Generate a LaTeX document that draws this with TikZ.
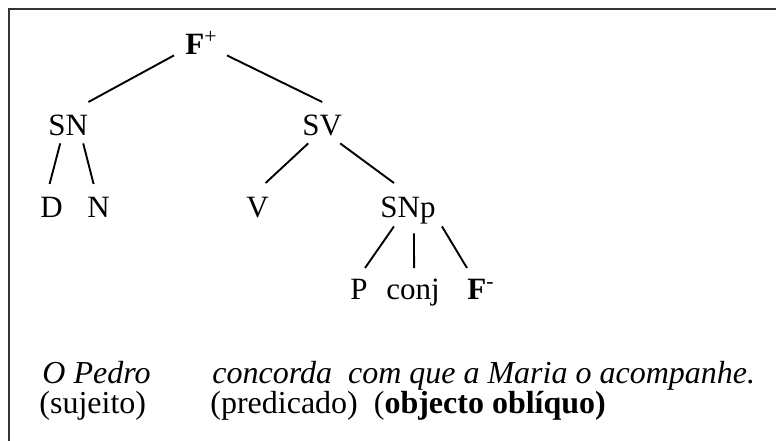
\documentclass[tikz,border=0pt]{standalone}
\usepackage{fontspec}
\setmainfont{Liberation Serif}
\usepackage{tikz}

\begin{document}
\begin{tikzpicture}[x=0.5pt,y=-0.5pt,
  lbl/.style={anchor=base west,inner sep=0pt,text height=10.3pt,text depth=0pt,
    font=\fontsize{15.5}{18}\selectfont},
  txt/.style={anchor=base west,inner sep=0pt,font=\fontsize{16}{18}\selectfont},
  branch/.style={line width=0.95pt}]
\clip (0,0) rectangle (776,440);
\draw[line width=0.8pt,black!80] (9,9) rectangle (800,470);
% tree
\node[lbl] (F) at (185,54) {\textbf{F}\textsuperscript{+}};
\node[lbl] (SN) at (48,135) {SN};
\node[lbl] (SV) at (302,135) {SV};
\node[lbl] (D) at (40,217) {D};
\node[lbl] (N) at (87,217) {N};
\node[lbl] (V) at (246,217) {V};
\node[lbl] (SNp) at (380,217) {SNp};
\node[lbl] (P) at (350,299) {P};
\node[lbl] (conj) at (386,299) {conj};
\node[lbl] (Fm) at (467,299) {\textbf{F}\textsuperscript{-}};
\draw[branch] ([shift={(-11,1)}]F.south west) -- ([shift={(0,-12)}]SN.north east);
\draw[branch] ([shift={(9,1)}]F.south east) -- ([shift={(0,-12)}]SV.north);
\draw[branch] ([shift={(-8,8)}]SN.south) -- ([shift={(-2,-12)}]D.north);
\draw[branch] ([shift={(15,8)}]SN.south) -- ([shift={(-5,-12)}]N.north);
\draw[branch] ([shift={(-14,8)}]SV.south) -- ([shift={(8,-13)}]V.north);
\draw[branch] ([shift={(18,8)}]SV.south) -- ([shift={(-14,-13)}]SNp.north);
\draw[branch] ([shift={(-14,9)}]SNp.south) -- ([shift={(6,-10)}]P.north);
\draw[branch] ([shift={(6,16)}]SNp.south) -- ([shift={(1,-10)}]conj.north);
\draw[branch] ([shift={(34,9)}]SNp.south) -- ([shift={(0,-10)}]Fm.north west);
% sentence
\node[txt] (suj) at (42,383) {\textit{O Pedro}};
\node[txt] (pred) at (212,383) {\textit{concorda\ \ com que a Maria o acompanhe.}};
\node[txt] (sujl) at (39,413) {(sujeito)};
\node[txt] (predl) at (210,413) {(predicado)\ \ (\textbf{objecto oblíquo)}};
\end{tikzpicture}
\end{document}
